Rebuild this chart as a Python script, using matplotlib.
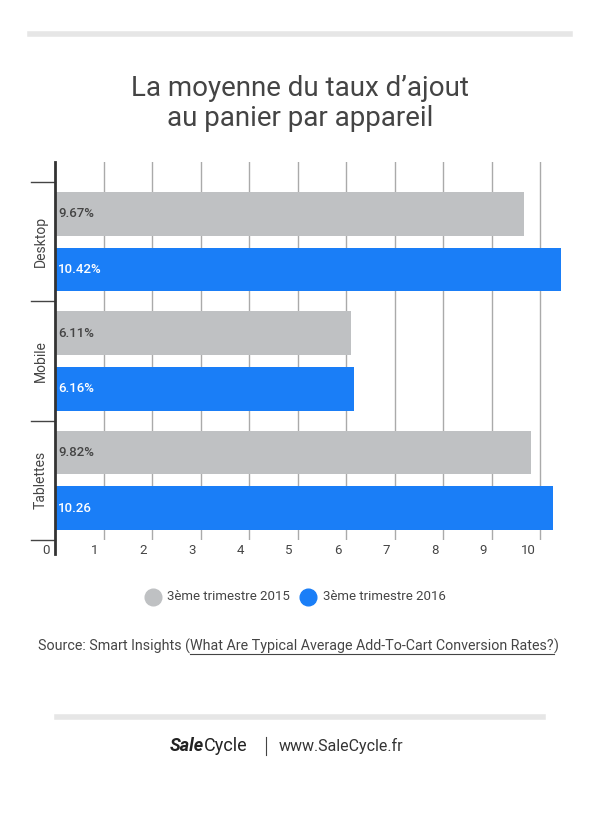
import matplotlib
matplotlib.use("Agg")
import matplotlib.pyplot as plt
from matplotlib.lines import Line2D

categories = ["Desktop", "Mobile", "Tablettes"]
q3_2015 = [9.67, 6.11, 9.82]
q3_2016 = [10.42, 6.16, 10.26]
labels_2015 = ["9.67%", "6.11%", "9.82%"]
labels_2016 = ["10.42%", "6.16%", "10.26"]
xticks = list(range(0, 11))
series_names = ["3ème trimestre 2015", "3ème trimestre 2016"]

W, H = 600, 831
fig = plt.figure(figsize=(6, 8.31), dpi=100)
plt.rcParams["font.family"] = "Roboto"
def fx(p): return p / W
def fy(p): return 1 - p / H

GRAY = "#bfc1c3"
BLUE = "#1a7ef7"
TXT = "#444444"

fig.add_artist(Line2D([fx(30), fx(570)], [fy(34), fy(34)], color="#e6e6e6", lw=4))
fig.add_artist(Line2D([fx(57), fx(543)], [fy(717), fy(717)], color="#e6e6e6", lw=4))

fig.text(0.5, fy(88), "La moyenne du taux d’ajout", ha="center", va="center", fontsize=20, color=TXT)
fig.text(0.5, fy(118), "au panier par appareil", ha="center", va="center", fontsize=20, color=TXT)

ax = fig.add_axes([fx(55), fy(540), fx(562) - fx(55), (540 - 162) / H])
ax.set_xlim(0, 10.45)
ax.set_ylim(2.5, -0.667)
off, h = 0.2333, 0.3667
for i in range(len(categories)):
    ax.barh(i - off, q3_2015[i], height=h, color=GRAY, zorder=2)
    ax.barh(i + off, q3_2016[i], height=h, color=BLUE, zorder=2)
    ax.text(0.06, i - off, labels_2015[i], va="center", ha="left", fontsize=9.5, color=TXT, fontweight="medium", zorder=3)
    ax.text(0.06, i + off, labels_2016[i], va="center", ha="left", fontsize=9.5, color="white", fontweight="medium", zorder=3)
    ax.text(-0.3, i, categories[i], rotation=90, va="center", ha="center", fontsize=10, color=TXT)
for x in xticks[1:]:
    ax.axvline(x, color="#aaaaaa", lw=1, zorder=1)
    ax.text(x - 0.1, 2.5 + 0.09, str(x), ha="right", va="center", fontsize=9.5, color=TXT)
ax.text(-0.1, 2.5 + 0.09, "0", ha="right", va="center", fontsize=9.5, color=TXT)
for b in [-0.5, 0.5, 1.5, 2.5]:
    ax.plot([-0.5, 0], [b, b], color="#444444", lw=1, clip_on=False)
for s in ["top", "right", "bottom"]:
    ax.spines[s].set_visible(False)
ax.spines["left"].set_color("#333333")
ax.spines["left"].set_linewidth(2)
ax.set_xticks([]); ax.set_yticks([])
ax.spines["left"].set_bounds(2.62, -0.667)

ly = fy(597)
fig.add_artist(Line2D([fx(153)], [ly], marker="o", ms=12, color=GRAY, lw=0))
fig.text(fx(167), ly, series_names[0], va="center", fontsize=9.5, color=TXT)
fig.add_artist(Line2D([fx(308)], [ly], marker="o", ms=12, color=BLUE, lw=0))
fig.text(fx(323), ly, series_names[1], va="center", fontsize=9.5, color=TXT)

# source line, pieces placed sequentially
r = fig.canvas.get_renderer()
x = 38
sy = fy(646)
pieces = [("Source: Smart Insights (", False), ("What Are Typical Average Add-To-Cart Conversion Rates?", True), (")", False)]
for s, ul in pieces:
    t = fig.text(fx(x), sy, s, va="center", fontsize=10.3, color=TXT)
    w = t.get_window_extent(r).width
    if ul:
        fig.add_artist(Line2D([fx(x), fx(x + w)], [fy(654), fy(654)], color=TXT, lw=0.8))
    x += w

t = fig.text(fx(170), fy(746), "Sale", va="center", fontsize=13, fontweight="bold", style="italic", color="#222222")
w = t.get_window_extent(r).width
fig.text(fx(170 + w), fy(746), "Cycle", va="center", fontsize=13, color="#222222")
fig.add_artist(Line2D([fx(266), fx(266)], [fy(737), fy(755)], color="#444444", lw=0.8))
fig.text(fx(279), fy(746), "www.SaleCycle.fr", va="center", fontsize=11.5, color="#333333")

fig.savefig("out.png", dpi=100, facecolor="white")
